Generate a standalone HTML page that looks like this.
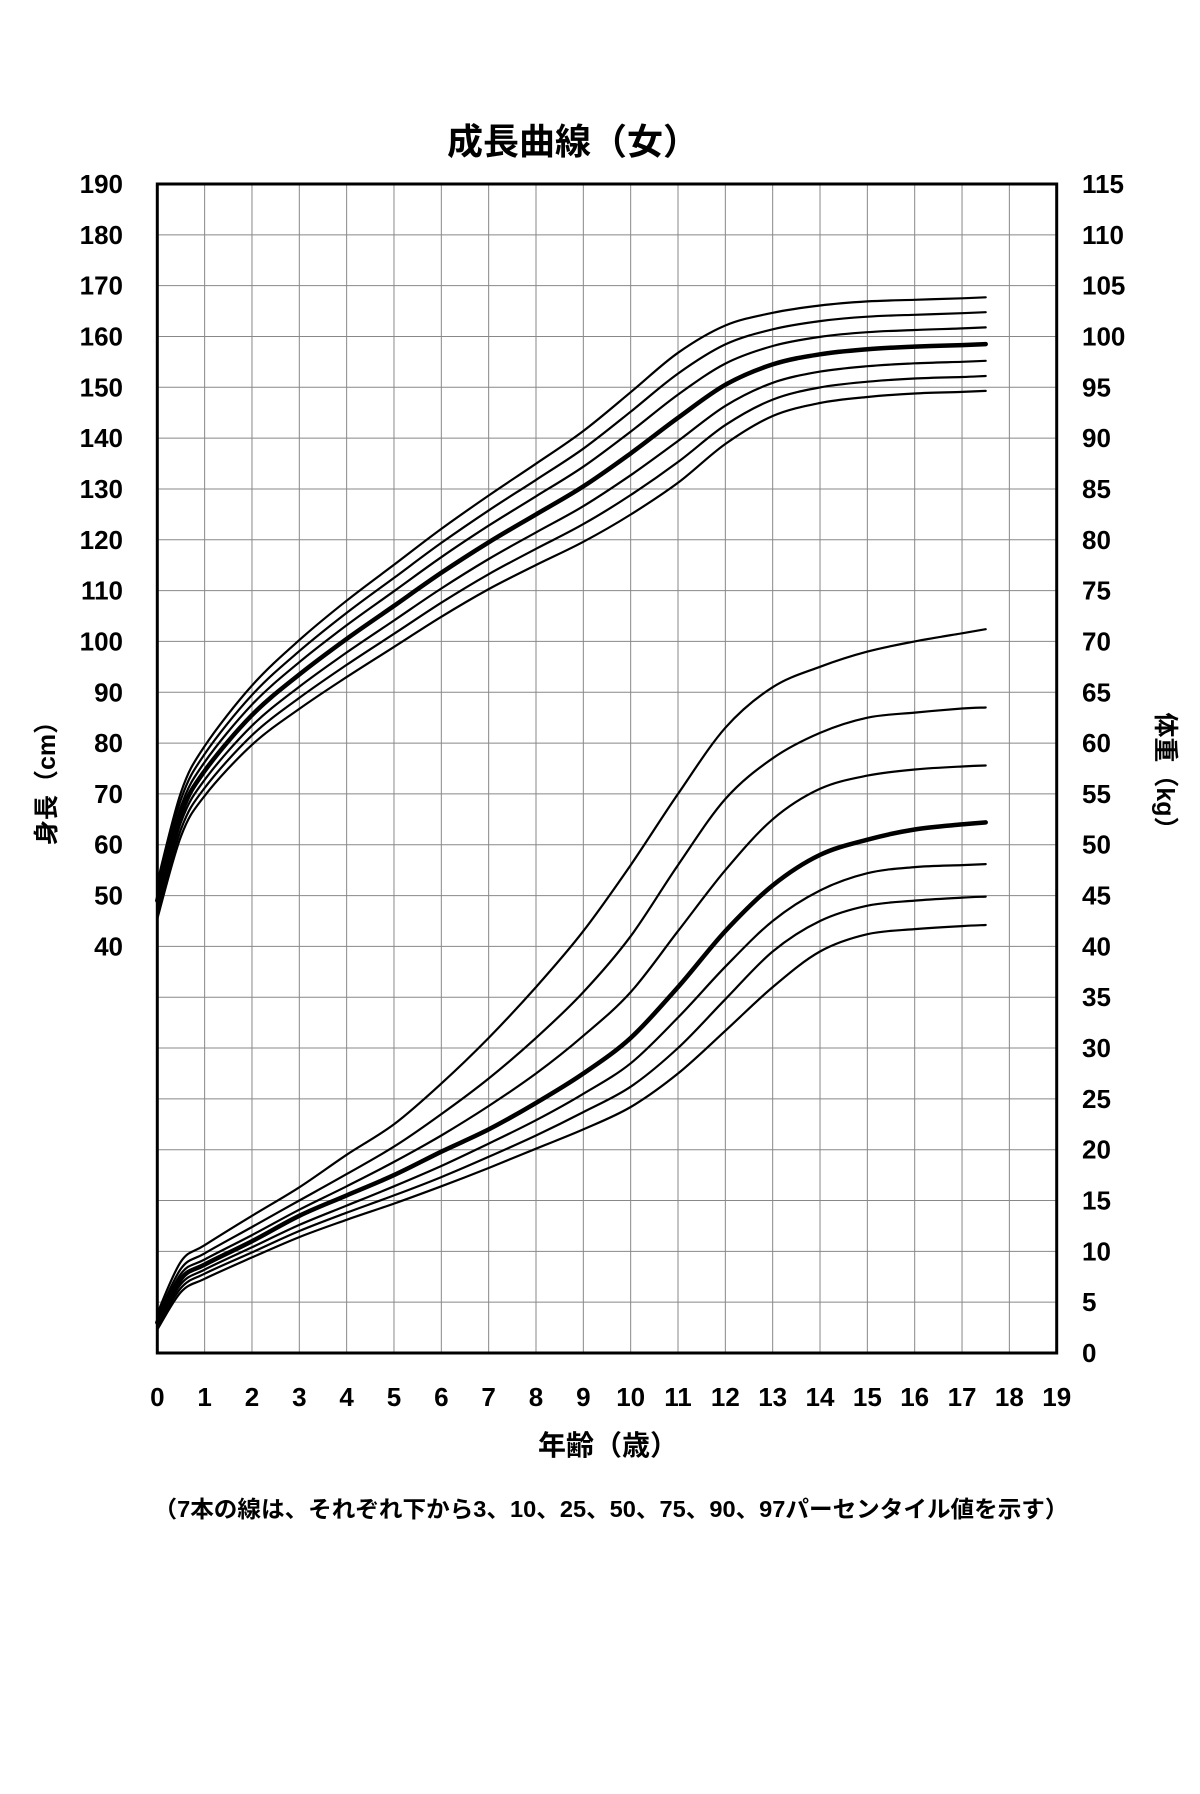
<!DOCTYPE html>
<html><head><meta charset="utf-8"><style>
html,body{margin:0;padding:0;background:#fff;}
svg{display:block;}
text{font-family:"Liberation Sans","Noto Sans CJK JP",sans-serif;font-weight:bold;fill:#000;}
</style></head><body>
<svg id="s" width="1200" height="1794" viewBox="0 0 1200 1794" xmlns="http://www.w3.org/2000/svg">
<g id="grid"></g>
<g id="curves" fill="none" stroke="#000" stroke-linejoin="round" stroke-linecap="round"></g>
<rect x="157.3" y="184" width="899.4" height="1169" fill="none" stroke="#000" stroke-width="3"/>
<g id="labels"></g>
<text x="573" y="154" font-size="36" text-anchor="middle">成長曲線（女）</text>
<text x="608" y="1455" font-size="28" text-anchor="middle">年齢（歳）</text>
<text x="611" y="1517" font-size="23" text-anchor="middle" textLength="915" lengthAdjust="spacingAndGlyphs">（7本の線は、それぞれ下から3、10、25、50、75、90、97パーセンタイル値を示す）</text>
<text transform="translate(55,777) rotate(-90)" font-size="25" text-anchor="middle">身長（cm）</text>
<text transform="translate(1157,777) rotate(90)" font-size="25" text-anchor="middle">体重（kg）</text>
</svg>
<script>
const NS="http://www.w3.org/2000/svg";
const L=157.3,T=184,W=899.4,H=1169,PX=W/19,PY=H/23;
const X=a=>L+PX*a, YH=h=>T+(190-h)*PY/10, YW=w=>T+H-w*PY/5;
function el(p,n,a,t){const e=document.createElementNS(NS,n);for(const k in a)e.setAttribute(k,a[k]);if(t!=null)e.textContent=t;p.appendChild(e);return e;}
const g=document.getElementById('grid'),lb=document.getElementById('labels'),cv=document.getElementById('curves');
for(let i=1;i<19;i++)el(g,'line',{x1:X(i),x2:X(i),y1:T,y2:T+H,stroke:'#888','stroke-width':1});
for(let j=1;j<23;j++)el(g,'line',{x1:L,x2:L+W,y1:T+j*PY,y2:T+j*PY,stroke:'#888','stroke-width':1});
for(let h=40;h<=190;h+=10)el(lb,'text',{x:123,y:YH(h)+9,'font-size':26,'text-anchor':'end'},h);
for(let w=0;w<=115;w+=5)el(lb,'text',{x:1082,y:YW(w)+9,'font-size':26},w);
for(let a=0;a<=19;a++)el(lb,'text',{x:X(a),y:1406,'font-size':26,'text-anchor':'middle'},a);
const ages=[0,0.5,1,2,3,4,5,6,7,8,9,10,11,12,13,14,15,16,17,17.5];
const h50=[49,66,74.5,85.5,93.5,100.5,107,113.5,119.5,125,130.5,137,144,150.5,154.5,156.5,157.5,158,158.3,158.5];
const sd=[1.9,2.3,2.6,3.1,3.6,4.0,4.3,4.6,4.9,5.3,5.8,6.4,6.8,6.2,5.4,5.1,5,4.9,4.9,4.9];
const zs=[-1.88,-1.28,-0.67,0,0.67,1.28,1.88];
const wt=[
[2.3,6,7.3,9.4,11.4,13.1,14.7,16.4,18.2,20.1,22,24.2,27.5,31.7,36,39.5,41.2,41.7,42,42.1],
[2.6,6.4,7.8,9.9,12,13.8,15.5,17.3,19.3,21.4,23.7,26.2,30,34.8,39.5,42.5,44,44.5,44.8,44.9],
[2.8,6.8,8.2,10.4,12.6,14.5,16.4,18.4,20.6,22.9,25.5,28.5,33,38,42.5,45.5,47.2,47.8,48,48.1],
[3,7.3,8.7,11,13.5,15.5,17.5,19.8,22,24.6,27.5,31,36,41.5,46,49,50.5,51.5,52,52.2],
[3.2,7.8,9.2,11.6,14.1,16.4,18.8,21.4,24.3,27.5,31.2,35.5,41.5,47.5,52.5,55.5,56.8,57.4,57.7,57.8],
[3.5,8.3,9.8,12.4,15,17.6,20.3,23.5,27,31,35.5,41,48,54.5,58.5,61,62.5,63,63.4,63.5],
[3.9,9,10.6,13.5,16.3,19.5,22.5,26.5,31,36,41.5,48,55,61.5,65.5,67.5,69,70,70.8,71.2]];
function path(pts){let d='M'+pts[0][0].toFixed(1)+','+pts[0][1].toFixed(1);
for(let i=0;i<pts.length-1;i++){const p0=pts[Math.max(0,i-1)],p1=pts[i],p2=pts[i+1],p3=pts[Math.min(pts.length-1,i+2)];
const c1=[p1[0]+(p2[0]-p0[0])/6,p1[1]+(p2[1]-p0[1])/6],c2=[p2[0]-(p3[0]-p1[0])/6,p2[1]-(p3[1]-p1[1])/6];
d+='C'+c1.map(v=>v.toFixed(1))+' '+c2.map(v=>v.toFixed(1))+' '+p2.map(v=>v.toFixed(1));}return d;}
zs.forEach((z,k)=>{const pts=ages.map((a,i)=>[X(a),YH(h50[i]+z*sd[i])]);
el(cv,'path',{d:path(pts),'stroke-width':k==3?4.5:2.2});});
wt.forEach((arr,k)=>{const pts=ages.map((a,i)=>[X(a),YW(arr[i])]);
el(cv,'path',{d:path(pts),'stroke-width':k==3?4.5:2.2});});
</script>
</body></html>
